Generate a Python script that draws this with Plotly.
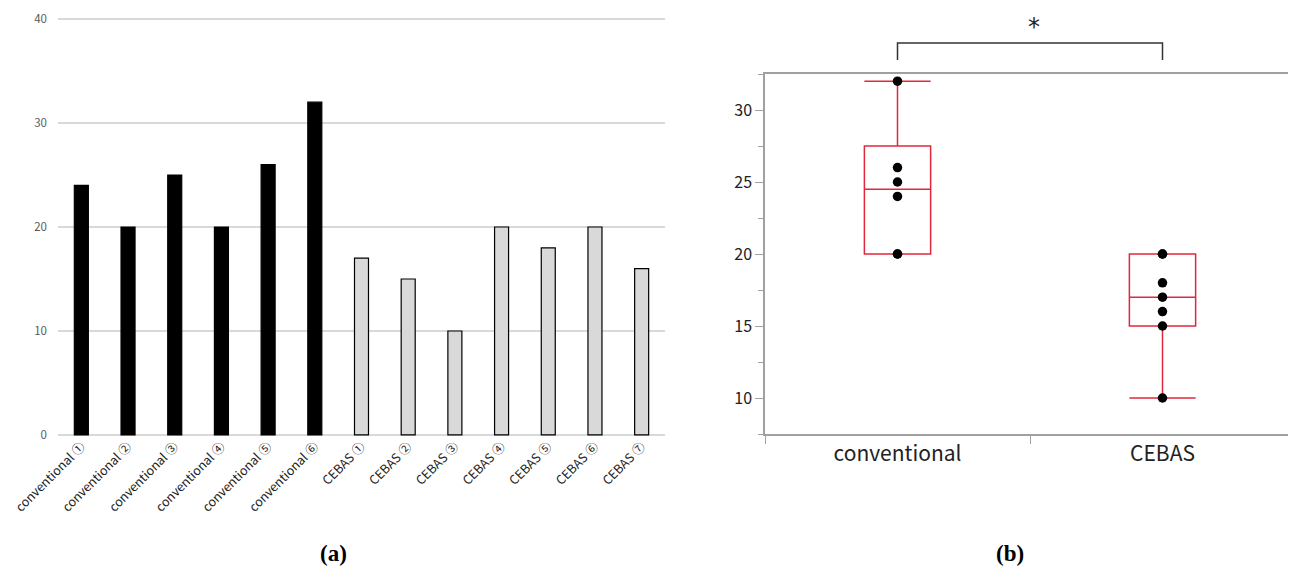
import numpy as np
import plotly.graph_objects as go

# ---- data ----
bar_labels = ["conventional ①", "conventional ②", "conventional ③", "conventional ④",
              "conventional ⑤", "conventional ⑥",
              "CEBAS ①", "CEBAS ②", "CEBAS ③", "CEBAS ④", "CEBAS ⑤", "CEBAS ⑥", "CEBAS ⑦"]
bar_groups = ["conventional"] * 6 + ["CEBAS"] * 7
bar_values = [24, 20, 25, 20, 26, 32, 17, 15, 10, 20, 18, 20, 16]

conventional_values = [24, 20, 25, 20, 26, 32]
cebas_values = [17, 15, 10, 20, 18, 20, 16]
box_categories = ["conventional", "CEBAS"]

left_yticks = [0, 10, 20, 30, 40]
right_yticks = [10, 15, 20, 25, 30]

# ---- layout helpers (page has an 8px body margin) ----
OFF = 8
W, H = 1296 - OFF, 575 - OFF


def px(x):
    return (x - OFF) / W


def py(y):
    return 1 - (y - OFF) / H


# ---- styles ----
FONT = "Noto Sans CJK JP"
group_fill = {"conventional": "#000000", "CEBAS": "#d9d9d9"}
RED = "#e0283c"

fig = go.Figure()

# (a) bar chart
fig.add_trace(go.Bar(
    x=bar_labels, y=bar_values,
    marker=dict(color=[group_fill[g] for g in bar_groups],
                line=dict(color="#000000", width=1.2)),
    xaxis="x", yaxis="y", showlegend=False,
))

# (b) box plot computed from raw values (JMP-style quartiles)
groups = [conventional_values, cebas_values]
q1 = [float(np.percentile(v, 25, method="weibull")) for v in groups]
med = [float(np.median(v)) for v in groups]
q3 = [float(np.percentile(v, 75, method="weibull")) for v in groups]
lo = [float(min(v)) for v in groups]
hi = [float(max(v)) for v in groups]

fig.add_trace(go.Box(
    x=box_categories, q1=q1, median=med, q3=q3, lowerfence=lo, upperfence=hi,
    width=0.25, whiskerwidth=1, boxpoints=False,
    line=dict(color=RED, width=1.5), fillcolor="rgba(0,0,0,0)",
    xaxis="x2", yaxis="y2", showlegend=False, hoverinfo="skip",
))

pts_x = [box_categories[0]] * len(conventional_values) + [box_categories[1]] * len(cebas_values)
pts_y = conventional_values + cebas_values
fig.add_trace(go.Scatter(
    x=pts_x, y=pts_y, mode="markers",
    marker=dict(color="#000000", size=9.5),
    xaxis="x2", yaxis="y2", showlegend=False,
))

fig.update_layout(
    width=W, height=H,
    margin=dict(l=0, r=0, t=0, b=0),
    paper_bgcolor="white", plot_bgcolor="white",
    font=dict(family=FONT, color="#222222"),
    bargap=0.7,
    xaxis=dict(domain=[px(58), px(665)], type="category", range=[-0.5, 12.5],
               tickangle=-45, tickfont=dict(size=12.5, color="#222222", family=FONT),
               showline=False, showgrid=False, ticks="", anchor="y", automargin=False,
               ticklabeloverflow="allow"),
    yaxis=dict(domain=[py(436), py(18)], range=[-0.1, 40.1], tickvals=left_yticks,
               showgrid=True, gridcolor="#d9d9d9", gridwidth=1.5, zeroline=False,
               tickfont=dict(size=11.5, color="#595959", family=FONT),
               ticks="", showline=False, anchor="x", ticklabelstandoff=10, automargin=False,
               ticklabeloverflow="allow"),
    xaxis2=dict(domain=[px(765), px(1295)], type="category", range=[-0.5, 1.5],
                showline=True, mirror=True, linecolor="#a0a0a0", linewidth=1.5,
                ticks="outside", tickson="boundaries", ticklen=8, tickcolor="#a0a0a0",
                tickfont=dict(size=21, color="#222222", family=FONT),
                showgrid=False, anchor="y2", automargin=False),
    yaxis2=dict(domain=[py(434), py(74)], range=[7.5, 32.5], tickvals=right_yticks,
                showline=True, mirror=True, linecolor="#a0a0a0", linewidth=1.5,
                ticks="outside", ticklen=8, tickcolor="#a0a0a0",
                minor=dict(ticks="outside", ticklen=5, dtick=2.5, tick0=0,
                           tickcolor="#a0a0a0", showgrid=False),
                tickfont=dict(size=16, color="#222222", family=FONT),
                showgrid=False, zeroline=False, anchor="x2", automargin=False,
                ticklabeloverflow="allow"),
)

# significance bracket
fig.add_shape(type="path", xref="x2", yref="paper",
              path=f"M 0,{py(60)} L 0,{py(43)} L 1,{py(43)} L 1,{py(60)}",
              line=dict(color="#333333", width=1.5))
fig.add_annotation(text="*", xref="paper", yref="paper", x=px(1034), y=py(27),
                   showarrow=False, font=dict(size=24, color="#222222", family="DejaVu Sans"),
                   xanchor="center", yanchor="middle")

# panel labels
for lbl, xp in [("<b>(a)</b>", 333), ("<b>(b)</b>", 1010)]:
    fig.add_annotation(text=lbl, xref="paper", yref="paper", x=px(xp), y=py(553),
                       showarrow=False, xanchor="center", yanchor="middle",
                       font=dict(size=23, color="#000000", family="Liberation Serif"))

fig.write_html("out.html")
